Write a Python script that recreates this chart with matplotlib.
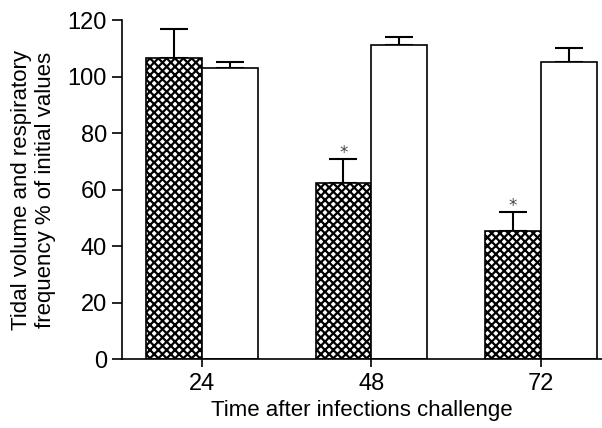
import numpy as np
import matplotlib.pyplot as plt

plt.rcParams['font.family'] = ['Liberation Sans', 'DejaVu Sans']
plt.rcParams['hatch.linewidth'] = 1.6

hours = ['24', '48', '72']
tidal_volume = [106.7, 62.5, 45.4]
tidal_err = [10.0, 8.3, 6.7]
resp_freq = [102.9, 111.2, 105.2]
resp_err = [2.1, 2.7, 4.8]
significant = [False, True, True]

fig = plt.figure(figsize=(6.02, 4.28), dpi=100)
ax = fig.add_axes([0.202, 0.161, 0.798, 0.792])

x = np.arange(len(hours))
w = 0.33

ax.bar(x - w / 2, tidal_volume, w, color='white', edgecolor='black',
       hatch='xxxx', linewidth=1.2, zorder=2)
ax.bar(x + w / 2, resp_freq, w, color='white', edgecolor='black',
       linewidth=1.2, zorder=2)

# only the upper half of the error bars
ax.errorbar(x - w / 2, tidal_volume, yerr=[np.zeros(3), tidal_err], fmt='none',
            ecolor='black', elinewidth=1.5, capsize=10, capthick=1.5, zorder=1)
ax.errorbar(x + w / 2, resp_freq, yerr=[np.zeros(3), resp_err], fmt='none',
            ecolor='black', elinewidth=1.5, capsize=10, capthick=1.5, zorder=1)

for i in range(len(hours)):
    if significant[i]:
        ax.text(x[i] - w / 2, tidal_volume[i] + tidal_err[i] + 2, '*',
                ha='center', va='center', fontsize=12, color='#444444',
                family='DejaVu Sans')

ax.set_xlim(-0.474, 2.36)
ax.set_ylim(0, 120)
ax.set_yticks(np.arange(0, 121, 20))
ax.set_xticks(x)
ax.set_xticklabels(hours)
ax.tick_params(axis='both', labelsize=17, width=1.2, length=7, direction='out')
ax.tick_params(axis='x', length=6, pad=4)

ax.spines['top'].set_visible(False)
ax.spines['right'].set_visible(False)
ax.spines['left'].set_linewidth(1.2)
ax.spines['bottom'].set_linewidth(1.2)

ax.set_xlabel('Time after infections challenge', fontsize=16)
ax.xaxis.set_label_coords(0.499, -0.153)
ax.xaxis.label.set_va('center')
ax.set_ylabel('Tidal volume and respiratory\nfrequency % of initial values',
              fontsize=16, linespacing=1.2, va='center')
ax.yaxis.set_label_coords(-0.1826, 0.5)

fig.savefig('out.png', dpi=100)
